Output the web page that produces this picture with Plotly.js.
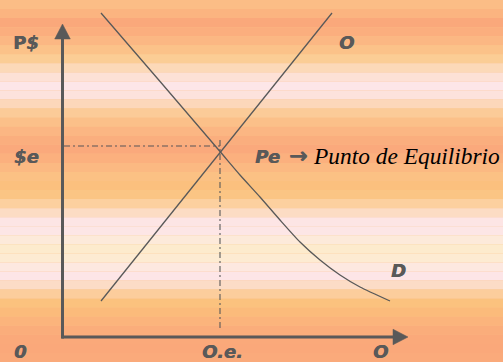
<!DOCTYPE html>
<html>
<head>
<meta charset="utf-8">
<script src="https://cdn.plot.ly/plotly-3.0.1.min.js"></script>
<style>html,body{margin:0;padding:0;overflow:hidden;}#chart{width:503px;height:362px;}</style>
</head>
<body>
<div id="chart"></div>
<script>
// ---- Data (conceptual quantity/price units, origin at axes corner) ----
const supplyQ = [3.85, 26.95];
const supplyP = [3.6, 32.4];
const demandQ = [3.85, 9.8, 15.75, 17.75, 19.75, 21.75, 23.75, 25.75, 27.75, 29.75, 32.75];
const demandP = [32.4, 25.5, 18.55, 16.2, 14.0, 11.7, 9.5, 7.7, 6.2, 5.0, 3.6];
const guideHQ = [0.15, 15.75];
const guideHP = [19.1, 19.1];
const guideVQ = [15.75, 15.75];
const guideVP = [19.7, 0.7];
const axisQEnd = 34.55;   // tip of quantity arrow
const axisPEnd = 31.3;    // tip of price arrow

const labelTexts = ["<b>P</b><b><i>$</i></b>", "<b><i>$e</i></b>", "<b><i>O</i></b>", "<b><i>D</i></b>",
                    "<b><i>0</i></b>", "<b><i>O.e.</i></b>", "<b><i>O</i></b>", "<b><i>Pe</i></b>"];
const labelQ = [-3.65, -3.65, 28.4, 33.6, -4.25, 15.95, 31.75, 20.45];
const labelP = [29.5, 18.1, 29.5, 6.7, -1.45, -1.45, -1.45, 18.1];
const arrowText = "<b>→</b>";
const arrowQ = 23.55;
const arrowP = 18.15;
const noteText = "<i>Punto de Equilibrio</i>";
const noteQ = 24.8;
const noteP = 18.1;

const stripeColors = ["#FBBD86","#FBB480","#FAA87B","#FBAE7E","#FBB783","#FBC289","#FBCD95","#FCD9B8",
  "#FDE1D6","#FDE6E8","#FDE2DC","#FCD7BA","#FBCB98","#FBC089","#FBB683","#FAAE7E","#FAA97C","#FBB07E",
  "#FBB982","#FBC184","#FBC07E","#FBC584","#FCD09F","#FCDCC4","#FDE5E5","#FDE6E6","#FDEADA","#FDEBCD",
  "#FDEBD2","#FDE8E0","#FDE5E7","#FCDCC6","#FCCD9C","#FBC27E","#FBBB7B","#FBB47C","#FAAD7B","#FAA97A",
  "#FAA87A","#FAAA7B"];

// ---- Styles ----
const ink = "#595959";
const arrowLen = 1.5, arrowHalf = 0.78;

const traces = [];
function line(x, y, w, dash, shape) {
  traces.push({type:"scatter", mode:"lines", x:x, y:y, hoverinfo:"skip", showlegend:false,
    line:{color:ink, width:w, dash:dash||"solid", shape:shape||"linear", smoothing:0.6}});
}
// axes
line([0, 0], [-0.15, axisPEnd - arrowLen], 3);
line([-0.1, axisQEnd - arrowLen], [0, 0], 3);
// arrow heads
traces.push({type:"scatter", mode:"lines", fill:"toself", fillcolor:ink, hoverinfo:"skip", showlegend:false,
  x:[-arrowHalf, arrowHalf, 0, -arrowHalf], y:[axisPEnd-arrowLen, axisPEnd-arrowLen, axisPEnd, axisPEnd-arrowLen],
  line:{color:ink, width:0.5}});
traces.push({type:"scatter", mode:"lines", fill:"toself", fillcolor:ink, hoverinfo:"skip", showlegend:false,
  x:[axisQEnd-arrowLen, axisQEnd-arrowLen, axisQEnd, axisQEnd-arrowLen], y:[-arrowHalf, arrowHalf, 0, -arrowHalf],
  line:{color:ink, width:0.5}});
// guides
line(guideHQ, guideHP, 1.1, "6px,3px,2px,3px");
line(guideVQ, guideVP, 1.1, "6px,3px,2px,3px");
// curves
line(supplyQ, supplyP, 1.3);
line(demandQ, demandP, 1.3, "solid", "spline");

const shapes = stripeColors.map((c, i) => ({
  type:"rect", xref:"paper", yref:"paper", layer:"below", line:{width:0}, fillcolor:c,
  x0:0, x1:1, y0:1 - (i+1)/stripeColors.length, y1:1 - i/stripeColors.length
}));

const labelFont = {family:"DejaVu Sans", size:18, color:ink, shadow:"0.6px 0 0 " + ink};
const annotations = labelTexts.map((t, i) => ({
  text:t, x:labelQ[i], y:labelP[i], xref:"x", yref:"y", showarrow:false,
  xanchor:"center", yanchor:"middle", font:labelFont
}));
annotations.push({text:arrowText, x:arrowQ, y:arrowP, xref:"x", yref:"y", showarrow:false,
  xanchor:"center", yanchor:"middle",
  font:{family:"DejaVu Sans", size:22, color:ink, shadow:"0.8px 0 0 " + ink}});
annotations.push({text:noteText, x:noteQ, y:noteP, xref:"x", yref:"y", showarrow:false,
  xanchor:"left", yanchor:"middle", font:{family:"Liberation Serif", size:23.4, color:"#000000"}});

const layout = {
  width:503, height:362, margin:{l:0, r:0, t:0, b:0, pad:0},
  paper_bgcolor:"#FBC089", plot_bgcolor:"rgba(0,0,0,0)",
  xaxis:{range:[-6.25, 44.05], visible:false, fixedrange:true},
  yaxis:{range:[-2.5, 33.7], visible:false, fixedrange:true},
  shapes:shapes, annotations:annotations, showlegend:false
};
Plotly.newPlot("chart", traces, layout, {staticPlot:true, displayModeBar:false});
</script>
</body>
</html>
